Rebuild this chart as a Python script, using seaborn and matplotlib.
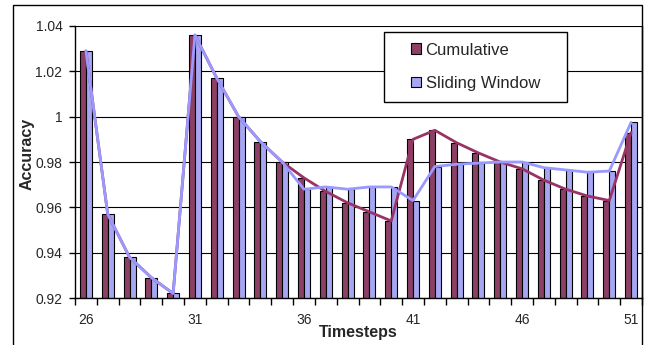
import numpy as np
import pandas as pd
import matplotlib
matplotlib.use("Agg")
import matplotlib.pyplot as plt
from matplotlib.patches import Rectangle
import seaborn as sns

steps = list(range(26, 52))
cumulative = [1.029, 0.957, 0.938, 0.929, 0.922, 1.036, 1.017, 1.000, 0.989, 0.980,
              0.973, 0.967, 0.962, 0.958, 0.954, 0.990, 0.994, 0.9885, 0.984, 0.980,
              0.977, 0.972, 0.968, 0.965, 0.963, 0.993]
sliding = [1.029, 0.957, 0.938, 0.929, 0.922, 1.036, 1.017, 1.000, 0.989, 0.980,
           0.968, 0.969, 0.968, 0.969, 0.969, 0.963, 0.978, 0.979, 0.9795, 0.980,
           0.980, 0.9775, 0.9765, 0.9755, 0.976, 0.9975]
series_names = ["Cumulative", "Sliding Window"]
colors = ["#993366", "#9999FF"]
yticks = [0.92, 0.94, 0.96, 0.98, 1.00, 1.02, 1.04]
ytick_labels = ["0.92", "0.94", "0.96", "0.98", "1", "1.02", "1.04"]
xtick_labels = ["26", "31", "36", "41", "46", "51"]

sns.set_style("white")
plt.rcParams["font.family"] = ["Liberation Sans", "DejaVu Sans"]

df = pd.DataFrame({
    "step": [str(s) for s in steps] * 2,
    "acc": cumulative + sliding,
    "series": [series_names[0]] * len(steps) + [series_names[1]] * len(steps),
})

fig = plt.figure(figsize=(6.46, 3.45), dpi=100)
ax = fig.add_axes([75 / 646, 1 - 298 / 345, (642 - 75) / 646, (298 - 26) / 345])

ax.set_axisbelow(True)
ax.yaxis.grid(True, color="black", linewidth=0.8)

sns.barplot(data=df, x="step", y="acc", hue="series", palette=colors,
            width=0.55, gap=0, edgecolor="black", linewidth=0.8, ax=ax,
            zorder=2)
pos = np.arange(len(steps))
sns.lineplot(x=pos, y=cumulative, color=colors[0], linewidth=2, ax=ax,
             legend=False, zorder=3)
sns.lineplot(x=pos, y=sliding, color=colors[1], linewidth=2, ax=ax,
             legend=False, zorder=4)

ax.set_xlim(-0.5, len(steps) - 0.5)
ax.set_ylim(0.92, 1.04)
ax.set_yticks(yticks)
ax.set_yticklabels(ytick_labels)
ax.set_xticks([steps.index(int(t)) for t in xtick_labels])
ax.set_xticklabels(xtick_labels)
ax.set_xticks(np.arange(-0.5, len(steps), 1.0), minor=True)
ax.tick_params(axis="x", which="major", length=0, pad=11, labelsize=10)
ax.tick_params(axis="x", which="minor", length=5, width=1, color="black", direction="out")
ax.tick_params(axis="y", length=4, width=1, color="black", direction="out", pad=5, labelsize=10)
ax.tick_params(left=True, bottom=True, which="both")

for s in ["left", "bottom", "right"]:
    ax.spines[s].set_color("black")
    ax.spines[s].set_linewidth(1)
ax.spines["top"].set_visible(False)

ax.set_xlabel("Timesteps", fontsize=11.5, fontweight="bold")
ax.set_ylabel("Accuracy", fontsize=11.5, fontweight="bold")
ax.xaxis.set_label_coords(0.5, -0.10)
ax.yaxis.set_label_coords(-0.072, 0.53)

handles, labels = ax.get_legend_handles_labels()
if ax.get_legend() is not None:
    ax.get_legend().remove()
ax.add_patch(Rectangle((0.545, 0.721), 0.323, 0.257, transform=ax.transAxes,
                       facecolor="white", edgecolor="black", linewidth=1, zorder=5))
leg = ax.legend(handles[:2], labels[:2], loc="center", bbox_to_anchor=(0.706, 0.85),
                frameon=False, fontsize=12, handlelength=0.6, handleheight=0.6,
                handletextpad=0.3, labelspacing=1.1)
leg.set_zorder(6)

fig.patches.append(Rectangle((13 / 646, -0.05), (642 - 13) / 646, 1.05 - 5 / 345,
                             transform=fig.transFigure, fill=False,
                             edgecolor="black", linewidth=1))

fig.savefig("out.png", dpi=100)
